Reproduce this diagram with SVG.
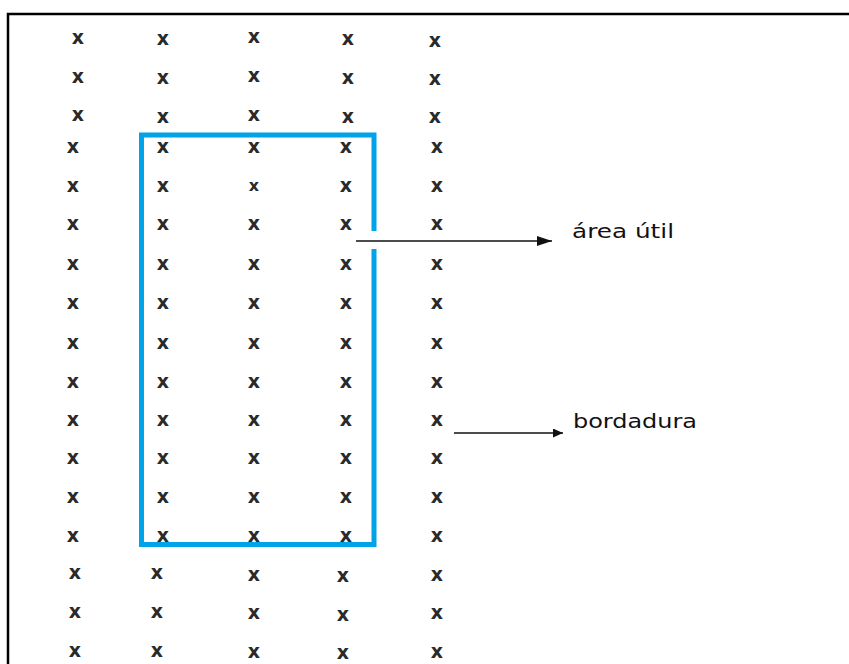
<svg xmlns="http://www.w3.org/2000/svg" width="849" height="664" viewBox="0 0 849 664">
  <style>
    .p { font-family: "DejaVu Sans", Verdana, sans-serif; font-size: 19px; font-weight: bold; fill: #2a2a2a; text-anchor: middle; }
    .lbl { font-family: "DejaVu Sans", Verdana, sans-serif; font-size: 20px; fill: #111; }
    .frame { fill: none; stroke: #000; stroke-width: 2.5; }
    .area { fill: none; stroke: #00a3e8; stroke-width: 5; stroke-linejoin: miter; }
    .arr { stroke: #111; stroke-width: 1.6; fill: none; }
  </style>
  <defs>
    <marker id="headA" markerUnits="userSpaceOnUse" markerWidth="16" markerHeight="10" refX="15" refY="5" orient="auto">
      <path d="M0,0 L15,5 L0,10 Z" fill="#111"/>
    </marker>
    <marker id="headB" markerUnits="userSpaceOnUse" markerWidth="11" markerHeight="9" refX="10" refY="4.5" orient="auto">
      <path d="M0,0 L10,4.5 L0,9 Z" fill="#111"/>
    </marker>
  </defs>
  <rect width="849" height="664" fill="#fff"/>
  <path class="frame" d="M8,664 V14 H849"/>

  <g id="plantas">
    <text class="p" x="78" y="43.5">x</text><text class="p" x="163" y="44.5">x</text><text class="p" x="254" y="42.5">x</text><text class="p" x="348" y="44.5">x</text><text class="p" x="435" y="46.5">x</text>
    <text class="p" x="78" y="82.5">x</text><text class="p" x="163" y="83.5">x</text><text class="p" x="254" y="81.5">x</text><text class="p" x="348" y="83.5">x</text><text class="p" x="435" y="84.5">x</text>
    <text class="p" x="78" y="120.5">x</text><text class="p" x="163" y="122.5">x</text><text class="p" x="254" y="120.5">x</text><text class="p" x="348" y="122.5">x</text><text class="p" x="435" y="122.5">x</text>
    <text class="p" x="73" y="152.5">x</text><text class="p" x="163" y="152.5">x</text><text class="p" x="254" y="152.5">x</text><text class="p" x="346" y="152.5">x</text><text class="p" x="437" y="152.5">x</text>
    <text class="p" x="73" y="191.5">x</text><text class="p" x="163" y="191.5">x</text><text class="p" x="254" y="191" style="font-size:16px">x</text><text class="p" x="346" y="191.5">x</text><text class="p" x="437" y="191.5">x</text>
    <text class="p" x="73" y="229.5">x</text><text class="p" x="163" y="229.5">x</text><text class="p" x="254" y="229.5">x</text><text class="p" x="346" y="229.5">x</text><text class="p" x="437" y="229.5">x</text>
    <text class="p" x="73" y="269.5">x</text><text class="p" x="163" y="269.5">x</text><text class="p" x="254" y="269.5">x</text><text class="p" x="346" y="269.5">x</text><text class="p" x="437" y="269.5">x</text>
    <text class="p" x="73" y="308.5">x</text><text class="p" x="163" y="308.5">x</text><text class="p" x="254" y="308.5">x</text><text class="p" x="346" y="308.5">x</text><text class="p" x="437" y="308.5">x</text>
    <text class="p" x="73" y="348.5">x</text><text class="p" x="163" y="348.5">x</text><text class="p" x="254" y="348.5">x</text><text class="p" x="346" y="348.5">x</text><text class="p" x="437" y="348.5">x</text>
    <text class="p" x="73" y="387.5">x</text><text class="p" x="163" y="387.5">x</text><text class="p" x="254" y="387.5">x</text><text class="p" x="346" y="387.5">x</text><text class="p" x="437" y="387.5">x</text>
    <text class="p" x="73" y="425.5">x</text><text class="p" x="163" y="425.5">x</text><text class="p" x="254" y="425.5">x</text><text class="p" x="346" y="425.5">x</text><text class="p" x="437" y="425.5">x</text>
    <text class="p" x="73" y="463.5">x</text><text class="p" x="163" y="463.5">x</text><text class="p" x="254" y="463.5">x</text><text class="p" x="346" y="463.5">x</text><text class="p" x="437" y="463.5">x</text>
    <text class="p" x="73" y="502.5">x</text><text class="p" x="163" y="502.5">x</text><text class="p" x="254" y="502.5">x</text><text class="p" x="346" y="502.5">x</text><text class="p" x="437" y="502.5">x</text>
    <text class="p" x="73" y="541.5">x</text><text class="p" x="163" y="541.5">x</text><text class="p" x="254" y="541.5">x</text><text class="p" x="346" y="541.5">x</text><text class="p" x="437" y="541.5">x</text>
    <text class="p" x="75" y="578.5">x</text><text class="p" x="157" y="578.5">x</text><text class="p" x="254" y="580.5">x</text><text class="p" x="343" y="581.5">x</text><text class="p" x="437" y="580.5">x</text>
    <text class="p" x="75" y="617.5">x</text><text class="p" x="157" y="617.5">x</text><text class="p" x="254" y="618.5">x</text><text class="p" x="343" y="620.5">x</text><text class="p" x="437" y="618.5">x</text>
    <text class="p" x="75" y="656.5">x</text><text class="p" x="157" y="656.5">x</text><text class="p" x="254" y="657.5">x</text><text class="p" x="343" y="658.5">x</text><text class="p" x="437" y="657.5">x</text>
  </g>

  <g id="area-util">
    <path class="area" d="M374,231 V135 H141.5 V544.5 H374 V249"/>
  </g>

  <g id="label-area-util">
    <text class="lbl" x="572" y="237.5" textLength="102" lengthAdjust="spacingAndGlyphs">área útil</text>
  </g>
  <g id="label-bordadura">
    <text class="lbl" x="573" y="428.3" textLength="124" lengthAdjust="spacingAndGlyphs">bordadura</text>
  </g>

  <g id="connectors">
    <line class="arr" x1="356" y1="241" x2="552" y2="241" marker-end="url(#headA)"/>
    <line class="arr" x1="454" y1="433" x2="563" y2="433" marker-end="url(#headB)"/>
  </g>
</svg>
